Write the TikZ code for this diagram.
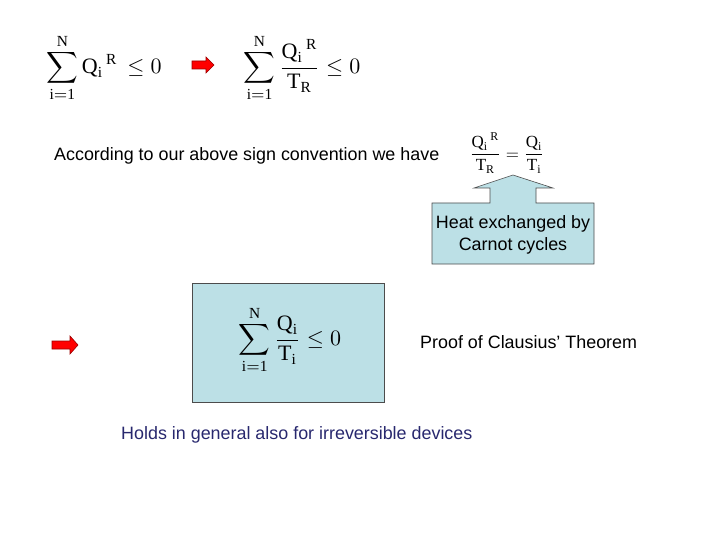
\documentclass[tikz,border=0pt]{standalone}
\usepackage{fontspec}
\setmainfont{Liberation Serif}
\newfontfamily\arial{Liberation Sans}
\definecolor{boxblue}{RGB}{188,224,230}
\definecolor{navytext}{RGB}{40,40,110}
\begin{document}
\begin{tikzpicture}[x=1pt,y=-1pt,
  lbl/.style={font=\arial\fontsize{17.9}{21.5}\selectfont,inner sep=0pt},
  eq/.style={inner sep=0pt,scale=2.2},
  redarrow/.style={fill=red,draw=red!60!black,line width=0.6pt}]
\useasboundingbox (0,0) rectangle (720,540);
\node[eq] (e1) at (104,68) {$\displaystyle\sum_{\mathrm{i=1}}^{\mathrm{N}}\mathrm{Q_i}^{\,\mathrm{R}}\,\le 0$};
\node[eq] (e2) at (302,68) {$\displaystyle\sum_{\mathrm{i=1}}^{\mathrm{N}}\frac{\mathrm{Q_i}^{\,\mathrm{R}}}{\mathrm{T_R}}\le 0$};
\fill[redarrow] (192,61) -- (206,61) -- (206,57) -- (214,65) -- (206,73) -- (206,69) -- (192,69) -- cycle;
\node[lbl,anchor=west] (t1) at (54,156) {According to our above sign convention we have};
\node[inner sep=0pt,scale=1.7] (e3) at (507,153) {$\displaystyle\frac{\mathrm{Q_i}^{\,\mathrm{R}}}{\mathrm{T_R}}=\frac{\mathrm{Q_i}}{\mathrm{T_i}}$};
\draw[fill=boxblue,draw=black!70,line width=0.6pt] (432,203) -- (490,203) -- (490,188) -- (474,188) -- (513,175) -- (553,188) -- (536,188) -- (536,203) -- (594,203) -- (594,264) -- (432,264) -- cycle;
\node[lbl,align=center] (t2) at (513,235) {Heat exchanged by\\Carnot cycles};
\node[draw=black!70,fill=boxblue,line width=0.6pt,minimum width=192pt,minimum height=119pt,inner sep=0pt] (box) at (288,342.5) {};
\node[eq] (e4) at (290,340) {$\displaystyle\sum_{\mathrm{i=1}}^{\mathrm{N}}\frac{\mathrm{Q_i}}{\mathrm{T_i}}\le 0$};
\fill[redarrow] (52,341) -- (70,341) -- (70,336) -- (78,345) -- (70,354) -- (70,349) -- (52,349) -- cycle;
\node[lbl,anchor=west] (t3) at (420,342) {Proof of Clausius’ Theorem};
\node[lbl,anchor=west,text=navytext] (t4) at (121,435) {Holds in general also for irreversible devices};
\end{tikzpicture}
\end{document}
